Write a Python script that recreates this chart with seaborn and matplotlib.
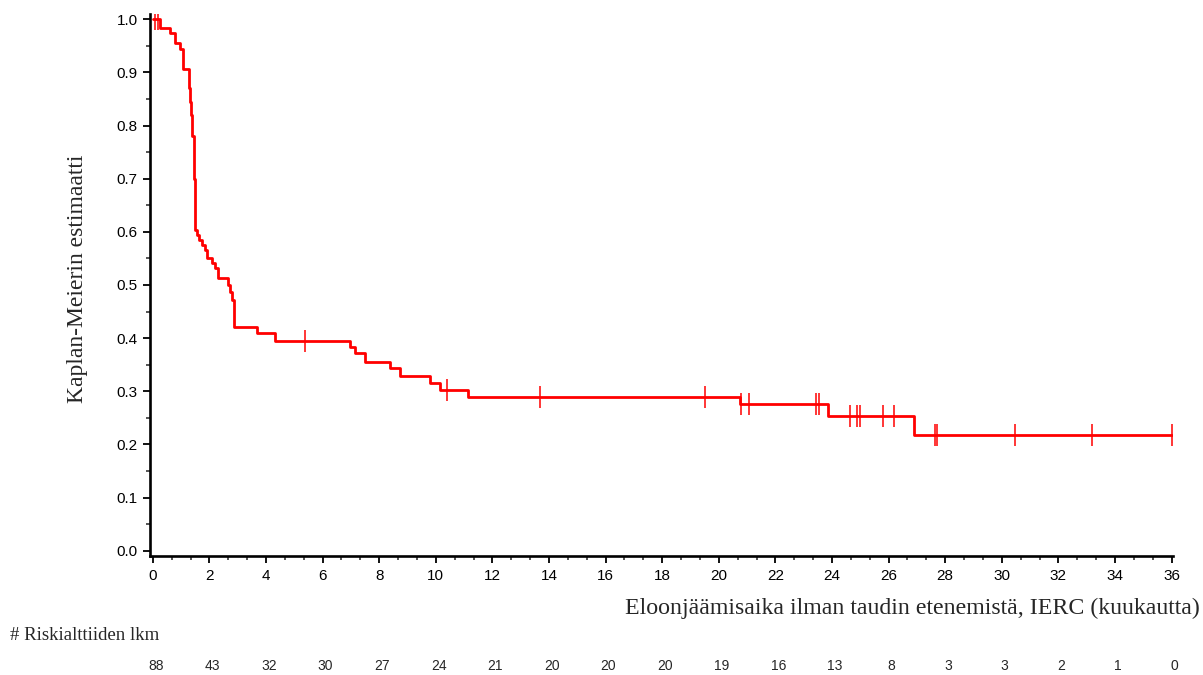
import numpy as np
import pandas as pd
import matplotlib
matplotlib.use("Agg")
import matplotlib.pyplot as plt
import matplotlib.transforms as mtransforms
from matplotlib.ticker import MultipleLocator, AutoMinorLocator
import seaborn as sns

# Kaplan-Meier step function (time in months, survival)
step_times = [0.0, 0.25, 0.6, 0.78, 0.95, 1.05, 1.27, 1.32, 1.36, 1.40, 1.45, 1.48,
              1.55, 1.62, 1.73, 1.84, 1.91, 2.08, 2.19, 2.30, 2.65, 2.72, 2.79, 2.86,
              3.67, 4.3, 6.96, 7.14, 7.5, 8.37, 8.73, 9.79, 10.14, 11.13, 20.74,
              23.85, 26.9, 36.0]
step_surv = [1.0, 0.983, 0.974, 0.955, 0.945, 0.906, 0.87, 0.845, 0.82, 0.78, 0.70, 0.603,
             0.594, 0.585, 0.575, 0.566, 0.551, 0.541, 0.532, 0.513, 0.50, 0.487, 0.472, 0.421,
             0.41, 0.395, 0.383, 0.372, 0.355, 0.344, 0.329, 0.316, 0.303, 0.29, 0.276,
             0.254, 0.218, 0.218]

# censored observations
censor_times = [0.08, 0.18, 5.37, 10.4, 13.67, 19.5, 20.8, 21.06, 23.43, 23.53,
                24.63, 24.9, 25.0, 25.8, 26.2, 27.65, 27.72, 30.46, 33.18, 36.0]

# number at risk table
risk_times = list(range(0, 37, 2))
risk_counts = [88, 43, 32, 30, 27, 24, 21, 20, 20, 20, 19, 16, 13, 8, 3, 3, 2, 1, 0]

ylabel = "Kaplan-Meierin estimaatti"
xlabel = "Eloonjäämisaika ilman taudin etenemistä, IERC (kuukautta)"
risk_title = "# Riskialttiiden lkm"

km = pd.DataFrame({"aika": step_times, "S": step_surv})
idx = np.searchsorted(step_times, censor_times, side="right") - 1
cens = pd.DataFrame({"aika": censor_times, "S": np.array(step_surv)[idx]})

sns.set_style("ticks")
plt.rcParams["font.family"] = ["Liberation Sans", "DejaVu Sans"]

fig = plt.figure(figsize=(12.03, 6.75), dpi=100)
ax = fig.add_axes([150 / 1203, 1 - 556 / 675, 1023 / 1203, 542 / 675])

sns.lineplot(data=km, x="aika", y="S", ax=ax, color="#ff0000", linewidth=2.0,
             drawstyle="steps-post", estimator=None, sort=False)
sns.scatterplot(data=cens, x="aika", y="S", ax=ax, marker="|", s=260,
                color="#ff0000", linewidth=1.1, zorder=3)

ax.set_xlim(-0.1, 36.05)
ax.set_ylim(-0.01, 1.01)
ax.xaxis.set_major_locator(MultipleLocator(2))
ax.xaxis.set_minor_locator(AutoMinorLocator(3))
ax.yaxis.set_major_locator(MultipleLocator(0.1))
ax.yaxis.set_minor_locator(AutoMinorLocator(2))
ax.yaxis.set_major_formatter(plt.FuncFormatter(lambda v, p: f"{v:.1f}"))
ax.tick_params(which="major", length=5, width=1.3, labelsize=11, pad=4, colors="black")
ax.tick_params(which="minor", length=3, width=1.1)
ax.set_xlabel("")
ax.set_ylabel("")
for s in ["top", "right"]:
    ax.spines[s].set_visible(False)
for s in ["left", "bottom"]:
    ax.spines[s].set_linewidth(1.9)
    ax.spines[s].set_color("black")

serif = ["Liberation Serif", "DejaVu Serif"]
fig.text(78 / 1203, 1 - 279 / 675, ylabel, rotation=90, ha="center", va="center",
         fontsize=17, family=serif)
fig.text(1200 / 1203, 1 - 608 / 675, xlabel, ha="right", va="center",
         fontsize=17.2, family=serif)
fig.text(10 / 1203, 1 - 636 / 675, risk_title, ha="left", va="center",
         fontsize=13.5, family=serif)

trans = mtransforms.blended_transform_factory(ax.transData, fig.transFigure)
for t, n in zip(risk_times, risk_counts):
    ax.text(t + 0.1, 1 - 666 / 675, str(n), transform=trans, ha="center", va="center",
            fontsize=10, clip_on=False)

fig.savefig("out.png", dpi=100)
